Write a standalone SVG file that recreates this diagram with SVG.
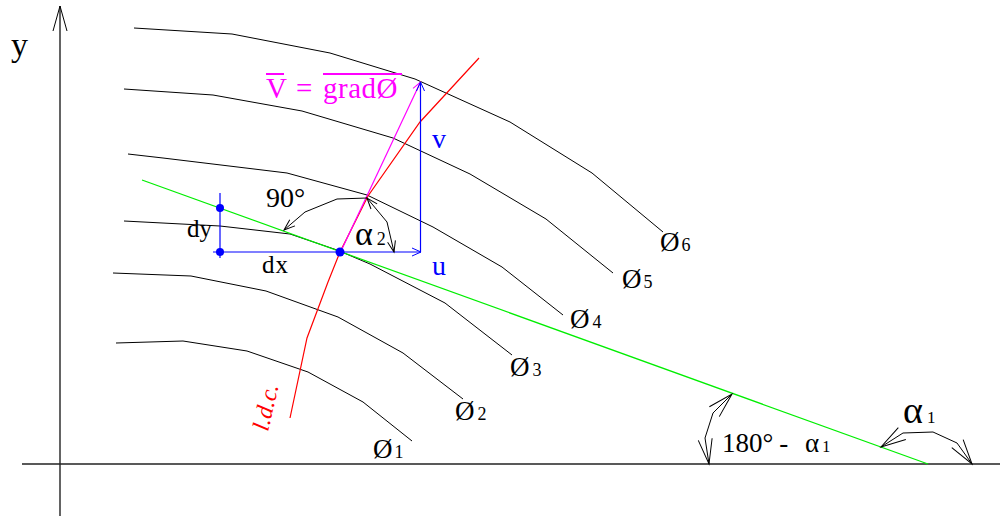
<svg xmlns="http://www.w3.org/2000/svg" width="1000" height="516" viewBox="0 0 1000 516">
<style>
.bg{fill:#ffffff}
.axis{stroke:#222;stroke-width:1.4;fill:none}
.iso{stroke:#000;stroke-width:1;fill:none}
.arc{stroke:#000;stroke-width:1;fill:none}
text{font-family:"Liberation Serif","Times New Roman",Times,serif}
.t{fill:#000}
.blue{fill:#0000ff}
.mag{fill:#ff00ff}
.red{fill:#ff0000}
</style>
<defs>
<marker id="bigK" markerUnits="userSpaceOnUse" orient="auto-start-reverse" refX="0" refY="0" markerWidth="30" markerHeight="20" overflow="visible"><path d="M-25,-7 L0,0 L-25,7" fill="none" stroke="#000" stroke-width="1"/></marker>
<marker id="smallK" markerUnits="userSpaceOnUse" orient="auto-start-reverse" refX="0" refY="0" markerWidth="15" markerHeight="10" overflow="visible"><path d="M-11,-4 L0,0 L-11,4" fill="none" stroke="#000" stroke-width="1"/></marker>
<marker id="arrB" markerUnits="userSpaceOnUse" orient="auto" refX="0" refY="0" markerWidth="12" markerHeight="10" overflow="visible"><path d="M-9,-4 L0,0 L-9,4" fill="none" stroke="#0000ff" stroke-width="1"/></marker>
<marker id="arrM" markerUnits="userSpaceOnUse" orient="auto" refX="0" refY="0" markerWidth="12" markerHeight="10" overflow="visible"><path d="M-9,-4 L0,0 L-9,4" fill="none" stroke="#ff00ff" stroke-width="1"/></marker>
</defs>
<rect class="bg" x="0" y="0" width="1000" height="516"/>

<g id="axes">
<line class="axis" x1="22" y1="464" x2="1000" y2="464"/>
<line class="axis" x1="60" y1="516" x2="60" y2="6" marker-end="url(#bigK)"/>
<text class="t" font-family="Liberation Serif, serif" x="11" y="56" font-size="34">y</text>
</g>

<g id="contours">
<g id="phi1"><polyline class="iso" points="116,343 183,341 247,351 308,372 363,402 412,441"/><text class="t" font-family="Liberation Serif, serif" x="373" y="458" font-size="27">Ø<tspan font-size="18" dx="2">1</tspan></text></g>
<g id="phi2"><polyline class="iso" points="113,273 191,276 266,291 338,317 403,353 463,399"/><text class="t" font-family="Liberation Serif, serif" x="455" y="420" font-size="27">Ø<tspan font-size="18" dx="3">2</tspan></text></g>
<g id="phi3"><polyline class="iso" points="124,221 220,226 290,234 337,250 370,264 445,303 512,355"/><text class="t" font-family="Liberation Serif, serif" x="510" y="376" font-size="27">Ø<tspan font-size="18" dx="3">3</tspan></text></g>
<g id="phi4"><polyline class="iso" points="128,154 163,158 287,173 367,195 433,227 502,267 563,315"/><text class="t" font-family="Liberation Serif, serif" x="570" y="328" font-size="27">Ø<tspan font-size="18" dx="3">4</tspan></text></g>
<g id="phi5"><polyline class="iso" points="124,89 213,95 302,111 393,138 470,174 546,219 613,273"/><text class="t" font-family="Liberation Serif, serif" x="622" y="288" font-size="27">Ø<tspan font-size="18" dx="2">5</tspan></text></g>
<g id="phi6"><polyline class="iso" points="134,28 232,34 330,53 415,79 510,122 592,173 663,232"/><text class="t" font-family="Liberation Serif, serif" x="660" y="251" font-size="27">Ø<tspan font-size="18" dx="2">6</tspan></text></g>
</g>

<g id="connectors">
<line id="tangent" x1="142" y1="180" x2="928" y2="464" stroke="#00ee00" stroke-width="1.2"/>
<polyline id="ldc-line" points="479,58 420,122 368,196 340,252 328,282 307,338 290,418" fill="none" stroke="#ff0000" stroke-width="1.2"/>
<line id="grad" x1="341" y1="251" x2="420.5" y2="82" stroke="#ff00ff" stroke-width="1.2" marker-end="url(#arrM)"/>
<line id="u-arrow" x1="213" y1="252" x2="421" y2="252" stroke="#0000ff" stroke-width="1.2" marker-end="url(#arrB)"/>
<line id="v-arrow" x1="420.5" y1="252" x2="420.5" y2="82" stroke="#0000ff" stroke-width="1.2" marker-end="url(#arrB)"/>
<line id="dy-line" x1="220" y1="193" x2="220" y2="258" stroke="#0000ff" stroke-width="1.2"/>
<polyline id="arc90" class="arc" points="367,198 337,199 305,212 284,230" marker-end="url(#smallK)"/>
<polyline id="arcA2" class="arc" points="367,198 387,222 394,252" marker-start="url(#smallK)" marker-end="url(#smallK)"/>
<polyline id="arc180" class="arc" points="732,394 713,413 705,438 709,464" marker-start="url(#bigK)" marker-end="url(#bigK)"/>
<polyline id="arcA1" class="arc" points="881,447 903,433 933,432 957,443 972,464" marker-start="url(#bigK)" marker-end="url(#bigK)"/>
</g>

<g id="points">
<circle cx="220" cy="208" r="4" fill="#0000ff"/>
<circle cx="220" cy="252" r="4" fill="#0000ff"/>
<circle cx="340" cy="252" r="4.5" fill="#0000ff"/>
</g>

<g id="labels">
<text class="t mag" font-family="Liberation Serif, serif" x="266" y="98" font-size="29">V</text>
<text class="t mag" font-family="Liberation Serif, serif" x="296" y="98" font-size="29">=</text>
<text class="t mag" font-family="Liberation Serif, serif" x="323" y="98" font-size="29" letter-spacing="0.5">gradØ</text>
<line x1="266" y1="74" x2="284" y2="74" stroke="#ff00ff" stroke-width="2"/>
<line x1="323" y1="74" x2="402" y2="74" stroke="#ff00ff" stroke-width="2"/>
<text class="t blue" font-family="Liberation Serif, serif" x="432" y="148" font-size="28">v</text>
<text class="t blue" font-family="Liberation Serif, serif" x="432" y="275" font-size="28">u</text>
<text class="t" font-family="Liberation Serif, serif" x="187" y="237" font-size="25">dy</text>
<text class="t" font-family="Liberation Serif, serif" x="262" y="273" font-size="25" letter-spacing="1">dx</text>
<text class="t" font-family="Liberation Serif, serif" x="266" y="207" font-size="28">90°</text>
<text class="t" font-family="Liberation Serif, serif" x="355" y="245" font-size="34">α<tspan font-size="18" dx="4">2</tspan></text>
<text class="t" font-family="Liberation Serif, serif" x="903" y="423" font-size="38">α<tspan font-size="17" dx="4">1</tspan></text>
<text class="t" font-family="Liberation Serif, serif" x="722" y="452" font-size="27">180°<tspan dx="6">-</tspan></text>
<text class="t" font-family="Liberation Serif, serif" x="805" y="452" font-size="27">α<tspan font-size="16" dx="3">1</tspan></text>
<text class="t red" font-family="Liberation Serif, serif" transform="translate(268,432) rotate(-77)" font-size="24" font-style="italic">l.d.c.</text>
</g>
</svg>
